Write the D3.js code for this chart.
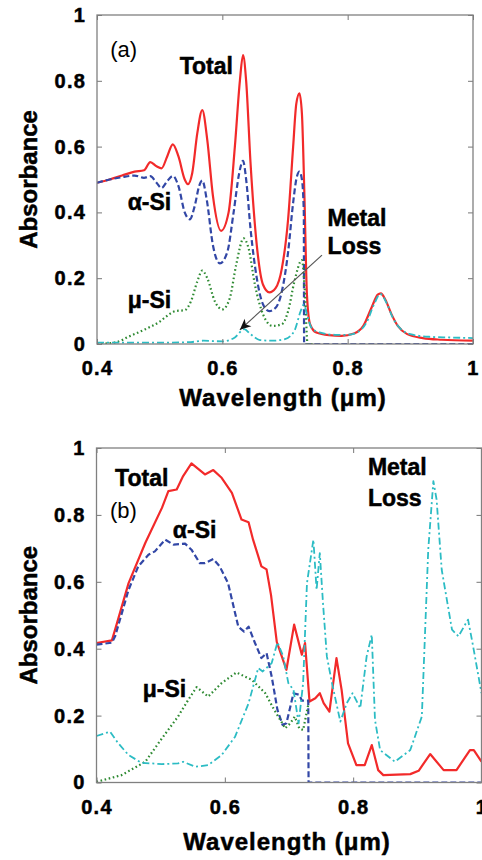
<!DOCTYPE html>
<html>
<head>
<meta charset="utf-8">
<script src="https://cdn.jsdelivr.net/npm/d3@7"></script>
<style>
  body { margin: 0; background: #fff; }
  svg { display: block; font-family: "Liberation Sans", Arial, sans-serif; }
  .tick text { font-weight: bold; font-size: 20px; letter-spacing: 1.2px; fill: #000; stroke: #000; stroke-width: 0.5px; }
  .tick line { stroke: #777; }
  .heavy { stroke: #000; stroke-width: 0.5px; }
</style>
</head>
<body>
<div id="graph"></div>
<script>
"use strict"

// ---- data: [wavelength (um), absorbance] ----
var xTicks = [0.4, 0.6, 0.8, 1]
var yTicks = [0, 0.2, 0.4, 0.6, 0.8, 1]

// panel (a)
var totalA = [[0.40,0.490],[0.42,0.500],[0.44,0.512],[0.46,0.524],[0.475,0.528],[0.485,0.553],[0.495,0.540],[0.503,0.534],[0.512,0.570],[0.521,0.607],[0.530,0.570],[0.540,0.500],[0.545,0.486],[0.552,0.520],[0.560,0.640],[0.568,0.711],[0.576,0.620],[0.585,0.450],[0.598,0.344],[0.610,0.400],[0.620,0.600],[0.628,0.800],[0.633,0.878],[0.638,0.800],[0.645,0.550],[0.655,0.300],[0.665,0.180],[0.675,0.157],[0.685,0.170],[0.695,0.230],[0.705,0.380],[0.713,0.600],[0.718,0.730],[0.723,0.762],[0.727,0.700],[0.731,0.450],[0.735,0.150],[0.740,0.060],[0.750,0.035],[0.770,0.027],[0.790,0.025],[0.810,0.032],[0.825,0.055],[0.838,0.110],[0.848,0.150],[0.853,0.154],[0.860,0.135],[0.870,0.090],[0.880,0.055],[0.895,0.030],[0.920,0.018],[0.950,0.013],[1.00,0.010]]
var aSiA = [[0.40,0.490],[0.42,0.500],[0.44,0.507],[0.46,0.512],[0.475,0.505],[0.485,0.510],[0.495,0.490],[0.503,0.474],[0.512,0.495],[0.521,0.511],[0.530,0.480],[0.540,0.400],[0.548,0.379],[0.556,0.420],[0.563,0.480],[0.568,0.497],[0.575,0.440],[0.585,0.300],[0.596,0.245],[0.608,0.280],[0.618,0.400],[0.627,0.520],[0.633,0.557],[0.638,0.500],[0.645,0.350],[0.655,0.200],[0.665,0.120],[0.675,0.100],[0.685,0.110],[0.695,0.160],[0.705,0.280],[0.713,0.430],[0.718,0.500],[0.723,0.524],[0.727,0.500],[0.730,0.400],[0.7305,0.0],[1.00,0.0]]
var muSiA = [[0.40,0.0],[0.43,0.005],[0.45,0.022],[0.475,0.043],[0.50,0.068],[0.515,0.090],[0.525,0.100],[0.540,0.103],[0.550,0.130],[0.560,0.190],[0.568,0.223],[0.576,0.200],[0.588,0.130],[0.600,0.105],[0.612,0.140],[0.622,0.240],[0.634,0.321],[0.642,0.290],[0.652,0.180],[0.665,0.090],[0.680,0.055],[0.695,0.060],[0.705,0.100],[0.715,0.190],[0.727,0.255],[0.732,0.150],[0.736,0.0],[0.745,0.0]]
var metalA = [[0.40,0.004],[0.50,0.004],[0.55,0.006],[0.57,0.010],[0.60,0.008],[0.62,0.020],[0.635,0.045],[0.645,0.030],[0.66,0.012],[0.68,0.010],[0.70,0.015],[0.715,0.040],[0.725,0.100],[0.730,0.120],[0.735,0.090],[0.742,0.050],[0.755,0.035],[0.78,0.028],[0.80,0.028],[0.815,0.035],[0.83,0.065],[0.842,0.120],[0.852,0.152],[0.862,0.125],[0.872,0.080],[0.885,0.045],[0.90,0.030],[0.93,0.022],[0.96,0.020],[1.00,0.018]]

// panel (b)
var totalB = [[0.400,0.417],[0.424,0.425],[0.429,0.457],[0.450,0.596],[0.476,0.716],[0.502,0.821],[0.512,0.871],[0.525,0.876],[0.535,0.916],[0.548,0.954],[0.569,0.921],[0.582,0.934],[0.595,0.911],[0.611,0.866],[0.626,0.786],[0.637,0.778],[0.644,0.726],[0.657,0.646],[0.665,0.637],[0.672,0.560],[0.681,0.420],[0.696,0.337],[0.708,0.472],[0.720,0.382],[0.725,0.417],[0.732,0.242],[0.741,0.252],[0.748,0.267],[0.754,0.237],[0.763,0.212],[0.774,0.372],[0.782,0.277],[0.792,0.117],[0.805,0.052],[0.818,0.052],[0.829,0.112],[0.839,0.037],[0.847,0.022],[0.889,0.025],[0.902,0.035],[0.920,0.085],[0.941,0.037],[0.961,0.037],[0.982,0.097],[0.988,0.097],[1.000,0.062]]
var aSiB = [[0.400,0.412],[0.424,0.418],[0.429,0.437],[0.450,0.576],[0.465,0.646],[0.481,0.681],[0.491,0.691],[0.507,0.726],[0.520,0.711],[0.538,0.714],[0.548,0.696],[0.561,0.656],[0.569,0.656],[0.582,0.668],[0.592,0.646],[0.605,0.596],[0.621,0.466],[0.630,0.451],[0.637,0.466],[0.647,0.417],[0.657,0.372],[0.665,0.387],[0.673,0.317],[0.682,0.217],[0.690,0.172],[0.696,0.177],[0.707,0.267],[0.716,0.262],[0.720,0.245],[0.730,0.245],[0.7305,0.0],[1.000,0.0]]
var muSiB = [[0.400,0.002],[0.439,0.022],[0.476,0.062],[0.502,0.132],[0.527,0.197],[0.543,0.247],[0.556,0.285],[0.574,0.257],[0.595,0.297],[0.618,0.329],[0.642,0.307],[0.663,0.267],[0.677,0.217],[0.688,0.182],[0.694,0.162],[0.702,0.177],[0.709,0.197],[0.716,0.162],[0.722,0.157],[0.730,0.232]]
var metalB = [[0.400,0.139],[0.421,0.152],[0.434,0.117],[0.450,0.082],[0.470,0.059],[0.502,0.055],[0.527,0.057],[0.535,0.062],[0.554,0.047],[0.574,0.052],[0.595,0.082],[0.616,0.137],[0.637,0.237],[0.652,0.342],[0.659,0.332],[0.673,0.357],[0.682,0.419],[0.691,0.377],[0.699,0.297],[0.707,0.277],[0.715,0.177],[0.722,0.297],[0.728,0.596],[0.738,0.726],[0.743,0.576],[0.748,0.686],[0.753,0.536],[0.759,0.377],[0.767,0.297],[0.780,0.182],[0.790,0.237],[0.799,0.267],[0.811,0.222],[0.821,0.377],[0.829,0.442],[0.834,0.187],[0.842,0.097],[0.865,0.062],[0.889,0.097],[0.907,0.197],[0.917,0.696],[0.925,0.901],[0.930,0.846],[0.938,0.636],[0.954,0.457],[0.964,0.437],[0.979,0.487],[0.986,0.417],[1.000,0.267]]

var styles = {
    total: {color: "#f22a2a", width: 2.2, dash: null},
    aSi:   {color: "#3247a6", width: 2.2, dash: "6,3"},
    muSi:  {color: "#2e8a32", width: 2.2, dash: "1.6,2.6"},
    metal: {color: "#2cbcc4", width: 1.8, dash: "7,3,2,3"}
}

var width = 482, height = 860
var svg = d3.select("#graph").append("svg").attr("width", width).attr("height", height)

drawPanel({
    left: 97, right: 473, top: 15, bottom: 344,
    tickPad: 17, titleY: 406,
    curve: d3.curveMonotoneX,
    series: [["total", totalA], ["aSi", aSiA], ["muSi", muSiA], ["metal", metalA]],
    labels: [
        {t: "(a)", x: 0.421, y: 0.872, bold: false},
        {t: "Total", x: 0.532, y: 0.821},
        {t: "\u03b1-Si", x: 0.449, y: 0.407},
        {t: "\u03bc-Si", x: 0.449, y: 0.109},
        {t: "Metal", x: 0.768, y: 0.359},
        {t: "Loss", x: 0.768, y: 0.274}
    ],
    arrow: {x1: 0.759, y1: 0.27, x2: 0.628, y2: 0.043}
})

drawPanel({
    left: 96.5, right: 481.5, top: 448, bottom: 782.5,
    tickPad: 17, titleY: 850,
    curve: d3.curveLinear,
    series: [["total", totalB], ["aSi", aSiB], ["muSi", muSiB], ["metal", metalB]],
    labels: [
        {t: "Total", x: 0.429, y: 0.886},
        {t: "(b)", x: 0.421, y: 0.792, bold: false},
        {t: "\u03b1-Si", x: 0.519, y: 0.732},
        {t: "\u03bc-Si", x: 0.472, y: 0.256},
        {t: "Metal", x: 0.823, y: 0.918},
        {t: "Loss", x: 0.823, y: 0.828}
    ]
})

function fmt(d) { return String(+d.toFixed(1)) }

function drawPanel(p) {
    var x = d3.scaleLinear().domain([0.4, 1]).range([p.left, p.right])
    var y = d3.scaleLinear().domain([0, 1]).range([p.bottom, p.top])
    var g = svg.append("g")

    var clipId = "clip" + p.top
    g.append("clipPath").attr("id", clipId).append("rect")
        .attr("x", p.left).attr("y", p.top - 2)
        .attr("width", p.right - p.left).attr("height", p.bottom - p.top + 2)

    // curves
    var line = d3.line().x(function(d) { return x(d[0]) }).y(function(d) { return y(d[1]) }).curve(p.curve)
    var lines = g.append("g").attr("clip-path", "url(#" + clipId + ")")
    p.series.forEach(function(s) {
        var st = styles[s[0]]
        lines.append("path")
            .datum(s[1])
            .attr("d", line)
            .attr("fill", "none")
            .attr("stroke", st.color)
            .attr("stroke-width", st.width)
            .attr("stroke-dasharray", st.dash)
            .attr("stroke-linejoin", "round")
    })

    // inward ticks on all sides
    g.append("g").attr("transform", "translate(0," + p.bottom + ")")
        .call(d3.axisBottom(x).tickValues(xTicks).tickFormat(fmt).tickSize(-5).tickPadding(p.tickPad))
        .call(function(a) { a.select(".domain").remove() })
    g.append("g").attr("transform", "translate(0," + p.top + ")")
        .call(d3.axisTop(x).tickValues(xTicks).tickFormat("").tickSize(-5))
        .call(function(a) { a.select(".domain").remove() })
    g.append("g").attr("transform", "translate(" + p.left + ",0)")
        .call(d3.axisLeft(y).tickValues(yTicks).tickFormat(fmt).tickSize(-5).tickPadding(11))
        .call(function(a) { a.select(".domain").remove() })
    g.append("g").attr("transform", "translate(" + p.right + ",0)")
        .call(d3.axisRight(y).tickValues(yTicks).tickFormat("").tickSize(-5))
        .call(function(a) { a.select(".domain").remove() })

    g.append("rect")
        .attr("x", p.left).attr("y", p.top)
        .attr("width", p.right - p.left).attr("height", p.bottom - p.top)
        .attr("fill", "none").attr("stroke", "#808080").attr("stroke-width", 1.3)

    // axis titles
    g.append("text")
        .attr("class", "heavy")
        .attr("x", (p.left + p.right) / 2 - 2).attr("y", p.titleY)
        .attr("text-anchor", "middle")
        .style("font-weight", "bold").style("font-size", "24px").style("letter-spacing", "1px")
        .text("Wavelength (\u03bcm)")
    g.append("text")
        .attr("class", "heavy")
        .attr("transform", "translate(37," + (p.top + p.bottom) / 2 + ") rotate(-90)")
        .attr("text-anchor", "middle")
        .style("font-weight", "bold").style("font-size", "24px")
        .text("Absorbance")

    // annotations
    p.labels.forEach(function(l) {
        g.append("text")
            .attr("class", l.bold === false ? null : "heavy")
            .attr("x", x(l.x)).attr("y", y(l.y))
            .style("font-weight", l.bold === false ? "normal" : "bold")
            .style("font-size", l.bold === false ? "22px" : "23px")
            .text(l.t)
    })

    if (p.arrow) {
        var ax1 = x(p.arrow.x1), ay1 = y(p.arrow.y1), ax2 = x(p.arrow.x2), ay2 = y(p.arrow.y2)
        g.append("line")
            .attr("x1", ax1).attr("y1", ay1).attr("x2", ax2).attr("y2", ay2)
            .attr("stroke", "#555").attr("stroke-width", 1.2)
        var ang = Math.atan2(ay2 - ay1, ax2 - ax1) * 180 / Math.PI
        g.append("path")
            .attr("d", "M0,0L-11,-5L-8,0L-11,5Z")
            .attr("transform", "translate(" + ax2 + "," + ay2 + ") rotate(" + ang + ")")
            .attr("fill", "#111")
    }
}
</script>
</body>
</html>
